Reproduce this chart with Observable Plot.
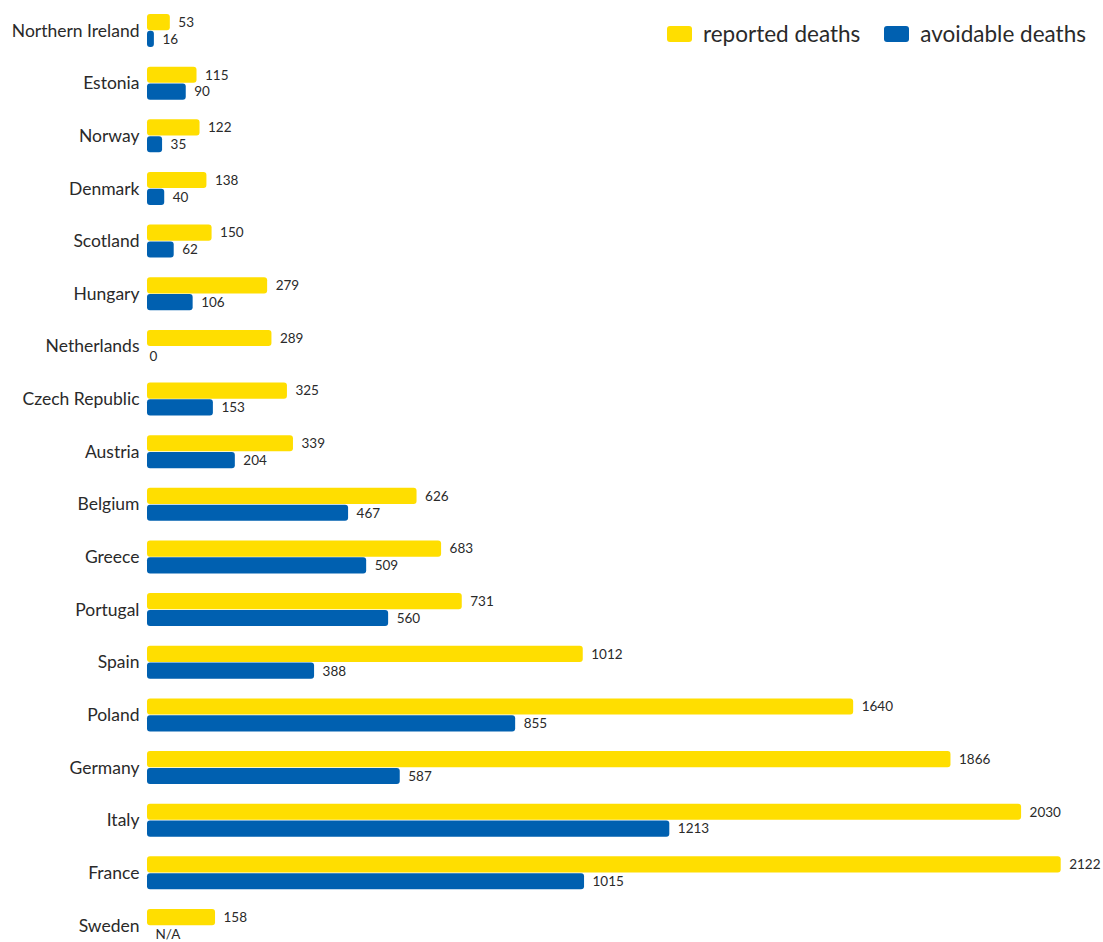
<!DOCTYPE html>
<html>
<head>
<meta charset="utf-8">
<script src="https://cdn.jsdelivr.net/npm/d3@7"></script>
<script src="https://cdn.jsdelivr.net/npm/@observablehq/plot@0.6"></script>
<style>
  html, body { margin: 0; padding: 0; background: #fff; }
  #wrap { position: relative; width: 1103px; height: 942px; overflow: hidden; }
  #legend { position: absolute; top: 20px; left: 667px; display: flex; align-items: center;
            font-family: Lato, sans-serif; font-size: 22.5px; color: #2a2a2a; white-space: nowrap; }
  .sw { width: 25px; height: 16px; border-radius: 3px; display: inline-block; margin-right: 11px; }
  .item { display: flex; align-items: center; margin-right: 24px; }
</style>
</head>
<body>
<div id="wrap">
  <div id="chart"></div>
  <div id="legend"></div>
</div>
<script>
const countries = ["Northern Ireland","Estonia","Norway","Denmark","Scotland","Hungary","Netherlands","Czech Republic","Austria","Belgium","Greece","Portugal","Spain","Poland","Germany","Italy","France","Sweden"];
const reported  = [53,115,122,138,150,279,289,325,339,626,683,731,1012,1640,1866,2030,2122,158];
const avoidable = [16,90,35,40,62,106,0,153,204,467,509,560,388,855,587,1213,1015,null];
const seriesNames = ["reported deaths","avoidable deaths"];
const seriesColors = ["#FFDE00","#0060B0"];

const data = [];
countries.forEach((c, i) => {
  data.push({country: c, series: seriesNames[0], value: reported[i]});
  data.push({country: c, series: seriesNames[1], value: avoidable[i]});
});
const barData = data.filter(d => d.value != null && d.value > 0);
const labelData = data.filter(d => d.value == null || d.value > 0);
const zeroData = data.filter(d => d.value === 0);

const chart = Plot.plot({
  width: 1103,
  height: 942,
  marginLeft: 147,
  marginRight: 42.3,
  marginTop: 14,
  marginBottom: 0,
  style: {fontFamily: "Lato, sans-serif", fontSize: "17.5px", color: "#2a2a2a", background: "transparent"},
  x: {domain: [0, 2122], axis: null, nice: false},
  y: {domain: seriesNames, axis: null, paddingInner: 0.04, paddingOuter: 0, round: false},
  fy: {domain: countries, paddingInner: 0.373, paddingOuter: 0, round: false, axis: "left", tickSize: 0, tickPadding: 8, label: null},
  color: {domain: seriesNames, range: seriesColors},
  marks: [
    Plot.barX(barData, {fy: "country", y: "series", x: "value", fill: "series", rx: 3}),
    Plot.text(labelData, {fy: "country", y: "series", x: d => d.value == null ? 0 : d.value,
      text: d => d.value == null ? "N/A" : String(d.value),
      textAnchor: "start", dx: 8, fontSize: 13.5, fill: "#2a2a2a"}),
    Plot.text(zeroData, {fy: "country", y: "series", x: "value", text: d => String(d.value),
      textAnchor: "start", dx: 2, dy: 1, fontSize: 13.5, fill: "#2a2a2a"})
  ]
});
document.getElementById("chart").appendChild(chart);

const legend = document.getElementById("legend");
seriesNames.forEach((s, i) => {
  const it = document.createElement("span");
  it.className = "item";
  const sw = document.createElement("span");
  sw.className = "sw";
  sw.style.background = seriesColors[i];
  it.appendChild(sw);
  it.appendChild(document.createTextNode(s));
  legend.appendChild(it);
});
</script>
</body>
</html>
